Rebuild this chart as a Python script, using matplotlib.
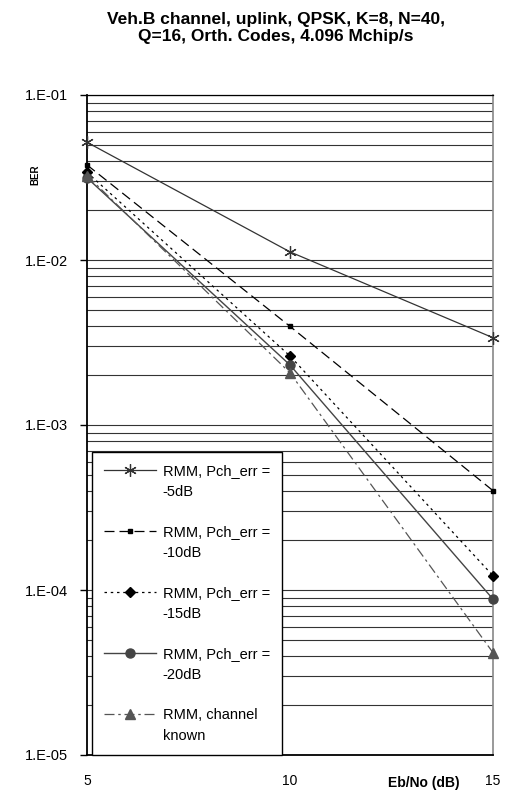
import matplotlib
matplotlib.use("Agg")
import matplotlib.pyplot as plt
import matplotlib.transforms as mtransforms
from matplotlib.legend_handler import HandlerLine2D
from matplotlib.ticker import FixedLocator, FixedFormatter, NullLocator

plt.rcParams['font.family'] = ['Liberation Sans', 'DejaVu Sans']

# data
ebno = [5, 10, 15]
ber_5db = [0.0517, 0.0112, 0.00338]
ber_10db = [0.0377, 0.00396, 0.000400]
ber_15db = [0.0340, 0.00262, 0.000122]
ber_20db = [0.0315, 0.00231, 0.0000880]
ber_known = [0.0325, 0.00207, 0.0000417]

labels = ["RMM, Pch_err =\n-5dB", "RMM, Pch_err =\n-10dB", "RMM, Pch_err =\n-15dB",
          "RMM, Pch_err =\n-20dB", "RMM, channel\nknown"]
ytick_vals = [1e-5, 1e-4, 1e-3, 1e-2, 1e-1]
ytick_labels = ["1.E-05", "1.E-04", "1.E-03", "1.E-02", "1.E-01"]
xtick_vals = [5, 10, 15]
xtick_labels = ["5", "10", "15"]

title = "Veh.B channel, uplink, QPSK, K=8, N=40,\nQ=16, Orth. Codes, 4.096 Mchip/s"

LEG_FS = 10.5
LEG_LS = 1.65


class FirstLineHandler(HandlerLine2D):
    # put the legend sample next to the first text line instead of centred
    def create_artists(self, legend, orig_handle, xdescent, ydescent, width, height, fontsize, trans):
        arts = super().create_artists(legend, orig_handle, xdescent, ydescent,
                                      width, height, fontsize, trans)
        shift = mtransforms.Affine2D().translate(0, 0.5 * fontsize * LEG_LS)
        for a in arts:
            a.set_transform(shift + trans)
        return arts


W, H = 515, 796
fig = plt.figure(figsize=(W / 100, H / 100), dpi=100)
ax = fig.add_axes([87 / W, 1 - 755 / H, 406 / W, 660 / H])

ax.set_yscale('log')
ax.set_ylim(1e-5, 1e-1)
ax.set_xlim(5, 15)

ax.plot(ebno, ber_5db, color='#333333', lw=0.9, ls='-', marker=(6, 2, 0), ms=9, mew=0.9,
        label=labels[0], clip_on=False, zorder=4)
ax.plot(ebno, ber_10db, color='black', lw=0.9, ls=(0, (8, 4)), marker='s', ms=3.5,
        label=labels[1], clip_on=False, zorder=4)
ax.plot(ebno, ber_15db, color='black', lw=0.9, ls=(0, (2, 3)), marker='D', ms=5,
        label=labels[2], clip_on=False, zorder=4)
ax.plot(ebno, ber_20db, color='#444444', lw=1.0, ls='-', marker='o', ms=6.5,
        label=labels[3], clip_on=False, zorder=4)
ax.plot(ebno, ber_known, color='#555555', lw=0.9, ls=(0, (8, 3, 2, 3)), marker='^', ms=7,
        label=labels[4], clip_on=False, zorder=4)

# horizontal grid only
ax.yaxis.grid(True, which='both', color='#333333', lw=0.8)
ax.xaxis.grid(False)
ax.set_axisbelow(True)

ax.yaxis.set_major_locator(FixedLocator(ytick_vals))
ax.yaxis.set_major_formatter(FixedFormatter(ytick_labels))
ax.tick_params(axis='y', which='major', length=5, width=1, direction='out', pad=9,
               labelsize=10.5, color='black')
ax.tick_params(axis='y', which='minor', length=0)
ax.xaxis.set_major_locator(FixedLocator(xtick_vals))
ax.xaxis.set_major_formatter(FixedFormatter(xtick_labels))
ax.xaxis.set_minor_locator(NullLocator())
ax.tick_params(axis='x', length=0, pad=14, labelsize=10)

for s in ['left', 'bottom']:
    ax.spines[s].set_color('black')
    ax.spines[s].set_linewidth(1.3)
ax.spines['top'].set_color('black')
ax.spines['top'].set_linewidth(0.9)
ax.spines['right'].set_color('#888888')
ax.spines['right'].set_linewidth(1.2)

leg = ax.legend(loc='lower left', bbox_to_anchor=(5 / 406, 0), borderaxespad=0,
                fontsize=LEG_FS, handlelength=3.6, handletextpad=0.45, labelspacing=1.78,
                borderpad=0.8, fancybox=False, framealpha=1, edgecolor='black',
                handler_map={plt.Line2D: FirstLineHandler()})
leg.get_frame().set_linewidth(1.0)
for t in leg.get_texts():
    t.set_linespacing(LEG_LS)

fig.text(276 / W, 1 - 28 / H, title, ha='center', va='center', fontsize=12.5,
         fontweight='bold', linespacing=1.15)
fig.text(35 / W, 1 - 175 / H, "BER", rotation=90, ha='center', va='center',
         fontsize=7, fontweight='bold')
fig.text(424 / W, 1 - 783 / H, "Eb/No (dB)", ha='center', va='center',
         fontsize=10, fontweight='bold')

fig.savefig("out.png", dpi=100)
